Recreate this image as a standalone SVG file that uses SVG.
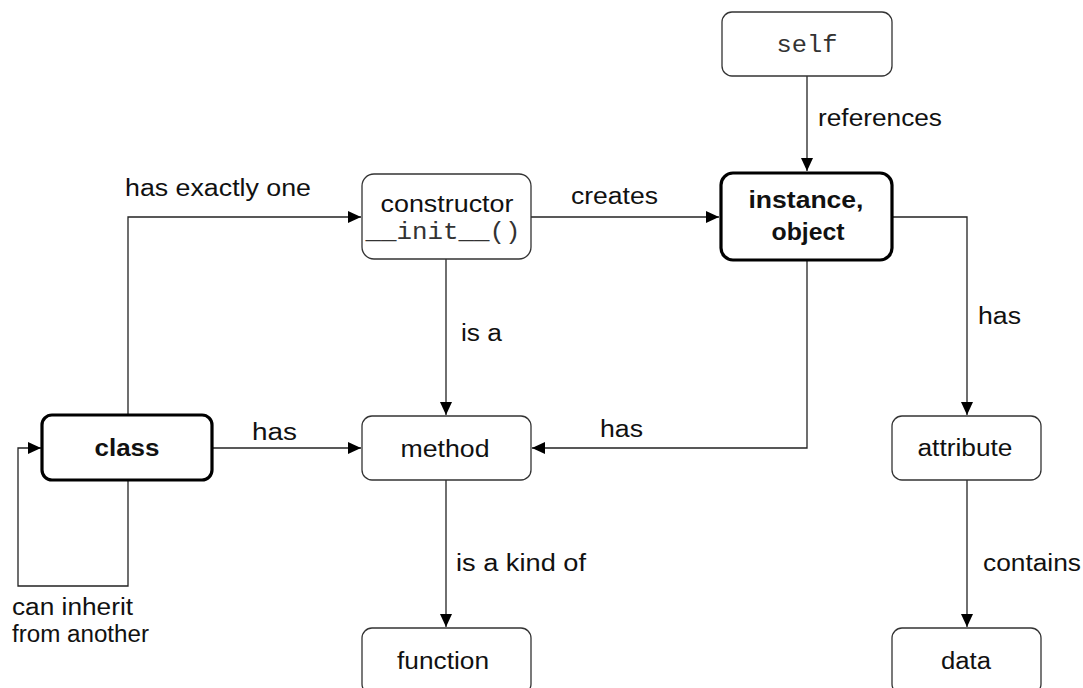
<svg xmlns="http://www.w3.org/2000/svg" width="1083" height="688" viewBox="0 0 1083 688">
<defs>
<style>
.box{fill:#fff;stroke:#333;stroke-width:1.3}
.bold{fill:#fff;stroke:#000;stroke-width:3.2}
.t{font-family:"Liberation Sans",Arial,sans-serif;font-size:23px;fill:#111}
.b{font-family:"Liberation Sans",Arial,sans-serif;font-size:23px;font-weight:bold;fill:#111}
.m{font-family:"Liberation Mono","Courier New",monospace;font-size:23px;fill:#333}
.c{text-anchor:middle}
.ln{fill:none;stroke:#222;stroke-width:1.3}
</style>
<marker id="arr" markerUnits="userSpaceOnUse" markerWidth="14" markerHeight="12" refX="13" refY="6" orient="auto">
<path d="M0,0 L13,6 L0,12 Z" fill="#000"/>
</marker>
</defs>
<rect width="1083" height="688" fill="#fff"/>
<g id="connectors">
<path class="ln" d="M128,415 V217 H361" marker-end="url(#arr)"/>
<path class="ln" d="M128,480 V586 H18 V448 H41" marker-end="url(#arr)"/>
<path class="ln" d="M212,448 H361" marker-end="url(#arr)"/>
<path class="ln" d="M531,217 H719" marker-end="url(#arr)"/>
<path class="ln" d="M446,259 V415" marker-end="url(#arr)"/>
<path class="ln" d="M807,76 V171" marker-end="url(#arr)"/>
<path class="ln" d="M807,260 V448 H532" marker-end="url(#arr)"/>
<path class="ln" d="M892,217 H967 V415" marker-end="url(#arr)"/>
<path class="ln" d="M446,480 V627" marker-end="url(#arr)"/>
<path class="ln" d="M967,480 V627" marker-end="url(#arr)"/>
<text class="t" x="125" y="196" textLength="186" lengthAdjust="spacingAndGlyphs">has exactly one</text>
<text class="t" x="571" y="204" textLength="87" lengthAdjust="spacingAndGlyphs">creates</text>
<text class="t" x="818" y="126" textLength="124" lengthAdjust="spacingAndGlyphs">references</text>
<text class="t" x="252" y="440" textLength="45" lengthAdjust="spacingAndGlyphs">has</text>
<text class="t" x="600" y="437" textLength="43" lengthAdjust="spacingAndGlyphs">has</text>
<text class="t" x="978" y="324" textLength="43" lengthAdjust="spacingAndGlyphs">has</text>
<text class="t" x="461" y="341" textLength="41" lengthAdjust="spacingAndGlyphs">is a</text>
<text class="t" x="456" y="571" textLength="130" lengthAdjust="spacingAndGlyphs">is a kind of</text>
<text class="t" x="983" y="571" textLength="98" lengthAdjust="spacingAndGlyphs">contains</text>
<text class="t" x="12" y="615" textLength="121" lengthAdjust="spacingAndGlyphs">can inherit</text>
<text class="t" x="12" y="642" textLength="137" lengthAdjust="spacingAndGlyphs">from another</text>
</g>
<g id="self">
<rect class="box" x="722" y="12" width="170" height="64" rx="10"/>
<text class="m c" x="807" y="52" textLength="61" lengthAdjust="spacingAndGlyphs">self</text>
</g>
<g id="constructor">
<rect class="box" x="362" y="174" width="169" height="85" rx="12"/>
<text class="t c" x="447" y="212" textLength="133" lengthAdjust="spacingAndGlyphs">constructor</text>
<text class="m c" x="443" y="239" textLength="155" lengthAdjust="spacingAndGlyphs">__init__()</text>
</g>
<g id="instance">
<rect class="bold" x="721" y="173" width="171" height="87" rx="12"/>
<text class="b c" x="806" y="208" textLength="115" lengthAdjust="spacingAndGlyphs">instance,</text>
<text class="b c" x="808" y="240" textLength="73" lengthAdjust="spacingAndGlyphs">object</text>
</g>
<g id="class">
<rect class="bold" x="42" y="415" width="170" height="65" rx="10"/>
<text class="b c" x="127" y="456" textLength="65" lengthAdjust="spacingAndGlyphs">class</text>
</g>
<g id="method">
<rect class="box" x="362" y="416" width="169" height="64" rx="10"/>
<text class="t c" x="445" y="457" textLength="89" lengthAdjust="spacingAndGlyphs">method</text>
</g>
<g id="attribute">
<rect class="box" x="892" y="416" width="149" height="64" rx="10"/>
<text class="t c" x="965" y="456" textLength="95" lengthAdjust="spacingAndGlyphs">attribute</text>
</g>
<g id="function">
<rect class="box" x="362" y="628" width="169" height="66" rx="10"/>
<text class="t c" x="443" y="669" textLength="92" lengthAdjust="spacingAndGlyphs">function</text>
</g>
<g id="data">
<rect class="box" x="892" y="628" width="149" height="66" rx="10"/>
<text class="t c" x="966" y="669" textLength="50" lengthAdjust="spacingAndGlyphs">data</text>
</g>
</svg>
